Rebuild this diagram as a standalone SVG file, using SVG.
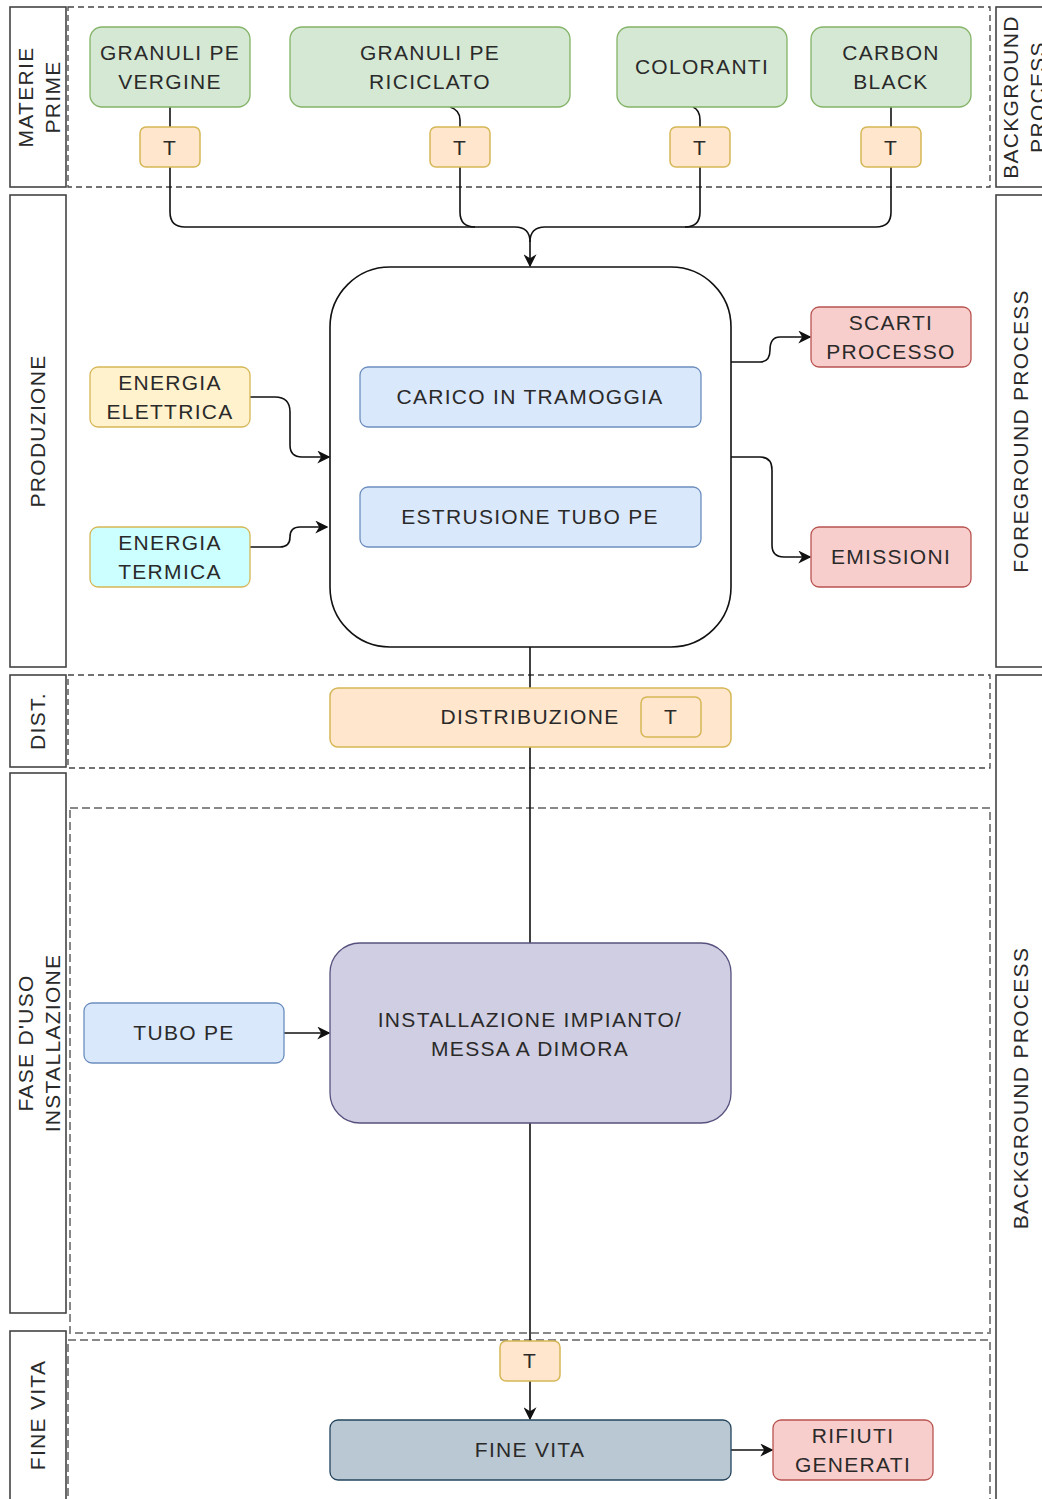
<svg xmlns="http://www.w3.org/2000/svg" width="1042" height="1499" viewBox="0 0 1042 1499">
<style>
text{font-family:"Liberation Sans",Arial,sans-serif;font-size:21px;letter-spacing:1.3px;fill:#2a2a2a;text-anchor:middle;dominant-baseline:central}
.lane{fill:#fff;stroke:#444;stroke-width:1.6}
.green{fill:#d5e8d4;stroke:#82b366;stroke-width:1.3}
.t{fill:#ffe6cc;stroke:#d6b656;stroke-width:1.5}
.blue{fill:#dae8fc;stroke:#6c8ebf;stroke-width:1.3}
.red{fill:#f8cecc;stroke:#b85450;stroke-width:1.3}
.conn{fill:none;stroke:#111;stroke-width:1.6}
.dash1{fill:none;stroke:#444;stroke-width:1.3;stroke-dasharray:6 4}
.dash2{fill:none;stroke:#888;stroke-width:2;stroke-dasharray:8 4}
</style>
<defs>
<marker id="arr" viewBox="0 0 10 10" refX="9" refY="5" markerWidth="13" markerHeight="13" orient="auto" markerUnits="userSpaceOnUse">
<path d="M0,0 L10,5 L0,10 L3,5 Z" fill="#111"/>
</marker>
</defs>
<rect width="1042" height="1499" fill="#fff"/>
<g id="swimlanes">
<rect class="dash1" x="68" y="7" width="922" height="180"/>
<rect class="dash1" x="68" y="675" width="922" height="93"/>
<rect class="dash2" x="70" y="808" width="920" height="525"/>
<rect class="dash2" x="68" y="1340" width="922" height="170"/>
<g id="lane-materie"><rect class="lane" x="10" y="7" width="56" height="180"/><text transform="translate(25,97) rotate(-90)">MATERIE</text><text transform="translate(52,97) rotate(-90)">PRIME</text></g>
<g id="lane-produzione"><rect class="lane" x="10" y="195" width="56" height="472"/><text transform="translate(37,431) rotate(-90)">PRODUZIONE</text></g>
<g id="lane-dist"><rect class="lane" x="10" y="675" width="56" height="92"/><text transform="translate(37,721) rotate(-90)">DIST.</text></g>
<g id="lane-uso"><rect class="lane" x="10" y="773" width="56" height="540"/><text transform="translate(25,1043) rotate(-90)">FASE D'USO</text><text transform="translate(52,1043) rotate(-90)">INSTALLAZIONE</text></g>
<g id="lane-finevita"><rect class="lane" x="10" y="1331" width="56" height="180"/><text transform="translate(37,1415) rotate(-90)">FINE VITA</text></g>
<g id="lane-bg-top"><rect class="lane" x="996" y="7" width="60" height="180"/><text transform="translate(1010,97) rotate(-90)">BACKGROUND</text><text transform="translate(1037,97) rotate(-90)">PROCESS</text></g>
<g id="lane-fg"><rect class="lane" x="996" y="195" width="60" height="472"/><text transform="translate(1020,431) rotate(-90)">FOREGROUND PROCESS</text></g>
<g id="lane-bg-bottom"><rect class="lane" x="996" y="675" width="60" height="840"/><text transform="translate(1020,1088) rotate(-90)">BACKGROUND PROCESS</text></g>
</g>
<g id="connectors">
<path class="conn" d="M170,107 V127"/>
<path class="conn" d="M450,107 Q460,110 460,120 V127"/>
<path class="conn" d="M693,107 Q700,110 700,120 V127"/>
<path class="conn" d="M891,107 V127"/>
<path class="conn" d="M170,167 V212 Q170,227 185,227 H515 Q530,227 530,242"/>
<path class="conn" d="M460,167 V212 Q460,227 475,227"/>
<path class="conn" d="M700,167 V212 Q700,227 685,227"/>
<path class="conn" d="M891,167 V212 Q891,227 876,227 H545 Q530,227 530,242 V266" marker-end="url(#arr)"/>
<path class="conn" d="M250,397 H275 Q290,397 290,412 V445 Q290,457 302,457 H329" marker-end="url(#arr)"/>
<path class="conn" d="M250,547 H280 Q290,547 290,537 Q290,527 300,527 H327" marker-end="url(#arr)"/>
<path class="conn" d="M731,362 H760 Q770,362 770,350 Q770,337 780,337 H810" marker-end="url(#arr)"/>
<path class="conn" d="M731,457 H760 Q772,457 772,470 V545 Q772,557 784,557 H810" marker-end="url(#arr)"/>
<path class="conn" d="M530,647 V688"/>
<path class="conn" d="M530,747 V943"/>
<path class="conn" d="M284,1033 H329" marker-end="url(#arr)"/>
<path class="conn" d="M530,1123 V1341"/>
<path class="conn" d="M530,1381 V1419" marker-end="url(#arr)"/>
<path class="conn" d="M731,1450 H772" marker-end="url(#arr)"/>
</g>
<g id="n-granuli-vergine"><rect class="green" x="90" y="27" width="160" height="80" rx="12"/><text x="170" y="52">GRANULI PE</text><text x="170" y="81">VERGINE</text></g>
<g id="n-granuli-riciclato"><rect class="green" x="290" y="27" width="280" height="80" rx="12"/><text x="430" y="52">GRANULI PE</text><text x="430" y="81">RICICLATO</text></g>
<g id="n-coloranti"><rect class="green" x="617" y="27" width="170" height="80" rx="12"/><text x="702" y="66">COLORANTI</text></g>
<g id="n-carbon"><rect class="green" x="811" y="27" width="160" height="80" rx="12"/><text x="891" y="52">CARBON</text><text x="891" y="81">BLACK</text></g>
<g id="t1"><rect class="t" x="140" y="127" width="60" height="40" rx="6"/><text x="170" y="147">T</text></g>
<g id="t2"><rect class="t" x="430" y="127" width="60" height="40" rx="6"/><text x="460" y="147">T</text></g>
<g id="t3"><rect class="t" x="670" y="127" width="60" height="40" rx="6"/><text x="700" y="147">T</text></g>
<g id="t4"><rect class="t" x="861" y="127" width="60" height="40" rx="6"/><text x="891" y="147">T</text></g>
<g id="n-produzione"><rect x="330" y="267" width="401" height="380" rx="60" fill="#fff" stroke="#111" stroke-width="1.6"/></g>
<g id="n-carico"><rect class="blue" x="360" y="367" width="341" height="60" rx="8"/><text x="530" y="396">CARICO IN TRAMOGGIA</text></g>
<g id="n-estrusione"><rect class="blue" x="360" y="487" width="341" height="60" rx="8"/><text x="530" y="516">ESTRUSIONE TUBO PE</text></g>
<g id="n-en-elettrica"><rect x="90" y="367" width="160" height="60" rx="8" fill="#fff2cc" stroke="#d6b656" stroke-width="1.3"/><text x="170" y="382">ENERGIA</text><text x="170" y="411">ELETTRICA</text></g>
<g id="n-en-termica"><rect x="90" y="527" width="160" height="60" rx="8" fill="#ccffff" stroke="#d6b656" stroke-width="1.3"/><text x="170" y="542">ENERGIA</text><text x="170" y="571">TERMICA</text></g>
<g id="n-scarti"><rect class="red" x="811" y="307" width="160" height="60" rx="8"/><text x="891" y="322">SCARTI</text><text x="891" y="351">PROCESSO</text></g>
<g id="n-emissioni"><rect class="red" x="811" y="527" width="160" height="60" rx="8"/><text x="891" y="556">EMISSIONI</text></g>
<g id="n-distribuzione"><rect class="t" x="330" y="688" width="401" height="59" rx="8"/><text x="530" y="716">DISTRIBUZIONE</text><rect class="t" x="641" y="697" width="60" height="40" rx="6"/><text x="671" y="716">T</text></g>
<g id="n-tubo"><rect class="blue" x="84" y="1003" width="200" height="60" rx="8"/><text x="184" y="1032">TUBO PE</text></g>
<g id="n-installazione"><rect x="330" y="943" width="401" height="180" rx="30" fill="#d0cee2" stroke="#56517e" stroke-width="1.3"/><text x="530" y="1019">INSTALLAZIONE IMPIANTO/</text><text x="530" y="1048">MESSA A DIMORA</text></g>
<g id="t5"><rect class="t" x="500" y="1341" width="60" height="40" rx="6"/><text x="530" y="1360">T</text></g>
<g id="n-finevita"><rect x="330" y="1420" width="401" height="60" rx="8" fill="#bac8d3" stroke="#23445d" stroke-width="1.3"/><text x="530" y="1449">FINE VITA</text></g>
<g id="n-rifiuti"><rect class="red" x="773" y="1420" width="160" height="60" rx="8"/><text x="853" y="1435">RIFIUTI</text><text x="853" y="1464">GENERATI</text></g>
</svg>
